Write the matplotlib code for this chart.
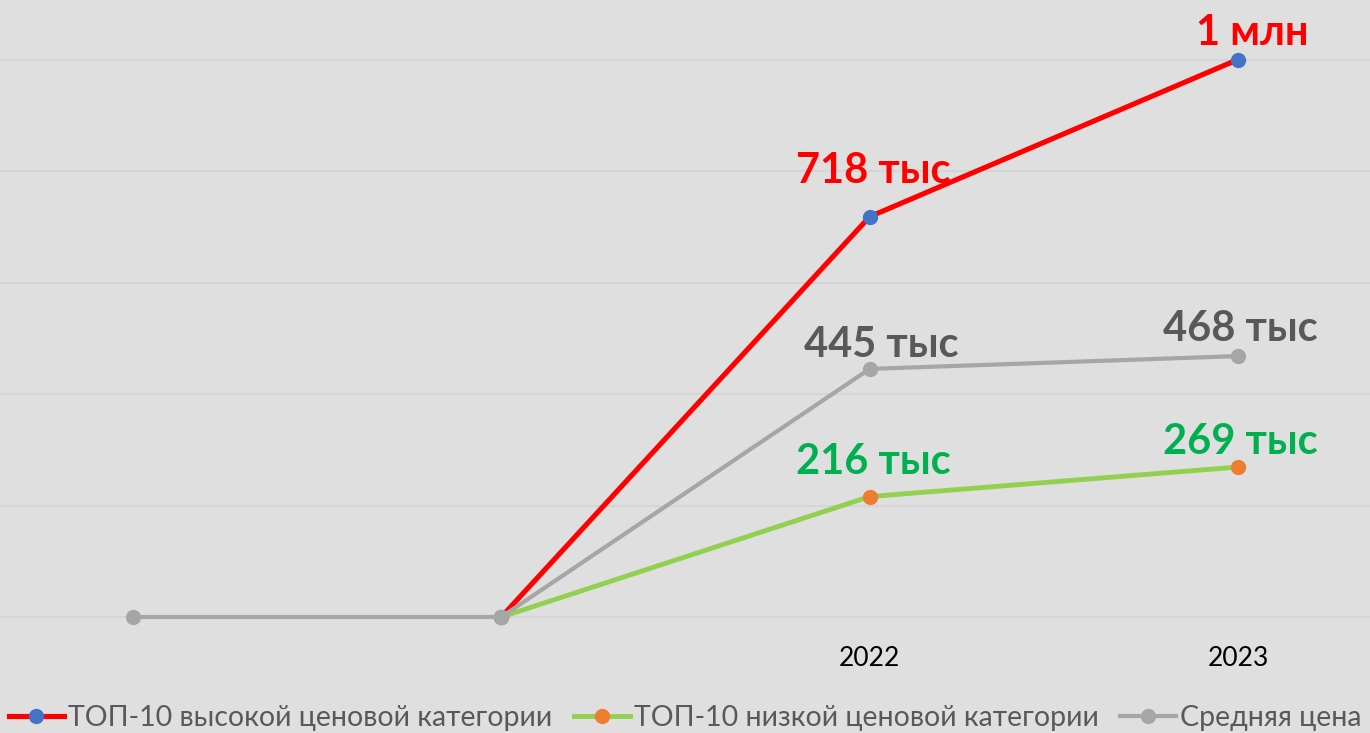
import matplotlib.pyplot as plt
import numpy as np

plt.rcParams['font.family'] = ['Lato', 'DejaVu Sans']

# categories on the x axis (first two have no caption)
years = ['', '', '2022', '2023']

# prices, thousand rub.
top_high = [np.nan, 0, 718, 1000]
top_low = [np.nan, 0, 216, 269]
avg_price = [0, 0, 445, 468]

labels_high = ['', '', '718 тыс', '1 млн']
labels_low = ['', '', '216 тыс', '269 тыс']
labels_avg = ['', '', '445 тыс', '468 тыс']

names = ['ТОП-10 высокой ценовой категории', 'ТОП-10 низкой ценовой категории', 'Средняя цена']

bg = '#dfdfdf'
fig = plt.figure(figsize=(13.7, 7.33), dpi=100, facecolor=bg)
ax = fig.add_axes([0, 93 / 733, 1, 640 / 733])
ax.set_facecolor(bg)

x = np.arange(len(years))

ax.plot(x, top_high, color='#ff0000', lw=3.7, marker='o', ms=10,
        mfc='#4472c4', mec='#4472c4', label=names[0], zorder=3)
ax.plot(x, top_low, color='#92d050', lw=3.5, marker='o', ms=10,
        mfc='#ed7d31', mec='#ed7d31', label=names[1], zorder=3)
ax.plot(x, avg_price, color='#a6a6a6', lw=3.0, marker='o', ms=10,
        mfc='#a6a6a6', mec='#a6a6a6', label=names[2], zorder=4)

# data labels
offsets_high = [None, None, (4, 46), (14, 27)]
offsets_low = [None, None, (4, 35), (2, 25)]
offsets_avg = [None, None, (12, 24), (2, 27)]
for vals, labs, offs, col in [(top_high, labels_high, offsets_high, '#ff0000'),
                              (top_low, labels_low, offsets_low, '#00b050'),
                              (avg_price, labels_avg, offsets_avg, '#595959')]:
    for i in range(len(x)):
        if labs[i]:
            ax.annotate(labs[i], (x[i], vals[i]), xytext=offs[i], textcoords='offset pixels',
                        ha='center', va='center', fontsize=30, fontweight='bold', color=col,
                        zorder=5)

ax.set_xlim(-133 / 368.33, (1370 - 133) / 368.33)
ax.set_ylim(-23 / 111.5 * 200, 617 / 111.5 * 200)
for yv in range(0, 1001, 200):
    ax.axhline(yv, color='#d5d5d5', lw=1.5, zorder=1)

ax.set_yticks([])
ax.set_xticks(x)
ax.set_xticklabels(years, fontsize=19, color='black')
ax.tick_params(axis='x', length=0, pad=4)
for s in ax.spines.values():
    s.set_visible(False)

fig.legend(loc='center', bbox_to_anchor=(0.5, 1 - 718 / 733), ncol=3, frameon=False,
           fontsize=20.5, labelcolor='#595959', handlelength=1.95, handletextpad=0.15,
           columnspacing=0.75)

fig.savefig('out.png', dpi=100, facecolor=bg)
